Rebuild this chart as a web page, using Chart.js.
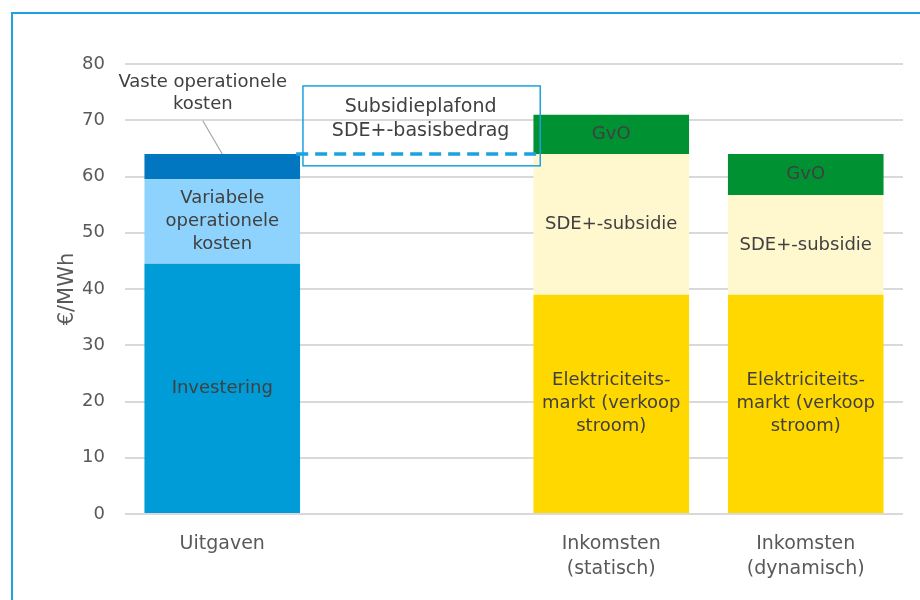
<!DOCTYPE html>
<html>
<head>
<meta charset="utf-8">
<script src="https://cdn.jsdelivr.net/npm/chart.js@4/dist/chart.umd.min.js"></script>
<style>
  html, body { margin: 0; padding: 0; background: #fff; }
  #wrap { position: relative; width: 920px; height: 600px; overflow: hidden; }
  #frame { position: absolute; left: 11px; top: 12px; width: 1000px; height: 700px;
           border-left: 2px solid #1AA3DE; border-top: 2px solid #1AA3DE; }
  canvas { position: absolute; left: 0; top: 0; }
</style>
</head>
<body>
<div id="wrap">
  <div id="frame"></div>
  <canvas id="c" width="920" height="600"></canvas>
</div>
<script>
const FONT = '"DejaVu Sans", Verdana, sans-serif';

const categories = ['Uitgaven', '', ['Inkomsten', '(statisch)'], ['Inkomsten', '(dynamisch)']];
const yTicks = [0, 10, 20, 30, 40, 50, 60, 70, 80];

const investering = [44.5, null, null, null];
const variabeleOp = [15, null, null, null];
const vasteOp = [4.5, null, null, null];
const elektriciteit = [null, null, 39, 39];
const sdeSubsidie = [null, null, 25, 17.7];
const gvo = [null, null, 7, 7.3];

const plafond = 64; // SDE+-basisbedrag

const segLabels = {
  investering: ['Investering'],
  variabele: ['Variabele', 'operationele', 'kosten'],
  elek: ['Elektriciteits-', 'markt (verkoop', 'stroom)'],
  sde: ['SDE+-subsidie'],
  gvo: ['GvO'],
};

const inBarLabels = {
  id: 'inBarLabels',
  afterDatasetsDraw(chart) {
    const ctx = chart.ctx;
    ctx.save();
    ctx.font = '18px ' + FONT;
    ctx.fillStyle = '#404040';
    ctx.textAlign = 'center';
    ctx.textBaseline = 'middle';
    chart.data.datasets.forEach((ds, i) => {
      const lines = ds.segLabel;
      if (!lines) return;
      chart.getDatasetMeta(i).data.forEach((bar, j) => {
        if (ds.data[j] == null) return;
        const cy = (bar.y + bar.base) / 2;
        const lh = 23;
        lines.forEach((t, k) => {
          ctx.fillText(t, bar.x, cy + (k - (lines.length - 1) / 2) * lh);
        });
      });
    });
    ctx.restore();
  }
};

const annotations = {
  id: 'annotations',
  afterDatasetsDraw(chart) {
    const ctx = chart.ctx;
    const x = chart.scales.x, y = chart.scales.y;
    const cw = x.getPixelForValue(1) - x.getPixelForValue(0);
    ctx.save();

    // subsidieplafond box + dashed line
    const cx = x.getPixelForValue(1);
    const yp = y.getPixelForValue(plafond);
    ctx.strokeStyle = '#1AA3DE';
    ctx.lineWidth = 1.5;
    ctx.strokeRect(cx - 0.585 * cw, y.getPixelForValue(76.1), 1.22 * cw, y.getPixelForValue(61.9) - y.getPixelForValue(76.1));
    ctx.lineWidth = 3.5;
    ctx.setLineDash([12, 7]);
    ctx.beginPath();
    ctx.moveTo(cx - 0.62 * cw, yp);
    ctx.lineTo(cx + 0.63 * cw, yp);
    ctx.stroke();
    ctx.setLineDash([]);
    ctx.font = '19px ' + FONT;
    ctx.fillStyle = '#404040';
    ctx.textAlign = 'center';
    ctx.textBaseline = 'middle';
    ctx.fillText('Subsidieplafond', cx + 0.02 * cw, y.getPixelForValue(72.4));
    ctx.fillText('SDE+-basisbedrag', cx + 0.02 * cw, y.getPixelForValue(68));

    // vaste operationele kosten callout
    const bar = chart.getDatasetMeta(2).data[0];
    ctx.font = '18px ' + FONT;
    ctx.fillText('Vaste operationele', bar.x - 0.1 * cw, y.getPixelForValue(76.8));
    ctx.fillText('kosten', bar.x - 0.1 * cw, y.getPixelForValue(72.9));
    ctx.strokeStyle = '#A6A6A6';
    ctx.lineWidth = 1.2;
    ctx.beginPath();
    ctx.moveTo(bar.x - 0.1 * cw, y.getPixelForValue(69.9));
    ctx.lineTo(bar.x, bar.y);
    ctx.stroke();
    ctx.restore();
  }
};

function ds(label, data, color, lines) {
  return { label, data, backgroundColor: color, segLabel: lines, borderWidth: 0 };
}

new Chart(document.getElementById('c'), {
  type: 'bar',
  data: {
    labels: categories,
    datasets: [
      ds('Investering', investering, '#009CD8', segLabels.investering),
      ds('Variabele operationele kosten', variabeleOp, '#8ED3FD', segLabels.variabele),
      ds('Vaste operationele kosten', vasteOp, '#0077C0', null),
      ds('Elektriciteitsmarkt', elektriciteit, '#FFD800', segLabels.elek),
      ds('SDE+-subsidie', sdeSubsidie, '#FFF7CE', segLabels.sde),
      ds('GvO', gvo, '#009133', segLabels.gvo),
    ]
  },
  options: {
    responsive: false,
    animation: false,
    layout: { padding: { left: 55, right: 17, top: 64, bottom: 0 } },
    plugins: { legend: { display: false }, tooltip: { enabled: false } },
    datasets: { bar: { categoryPercentage: 1, barPercentage: 0.8 } },
    scales: {
      x: {
        stacked: true,
        grid: { display: false },
        border: { display: false },
        ticks: { color: '#595959', font: { family: FONT, size: 19, lineHeight: 1.3 }, padding: 10, maxRotation: 0, autoSkip: false },
        afterFit: (s) => { s.height = 86; }
      },
      y: {
        stacked: true,
        min: 0, max: 80,
        afterBuildTicks: (s) => { s.ticks = yTicks.map(v => ({ value: v })); },
        grid: { color: '#D9D9D9', lineWidth: 2, drawTicks: false },
        border: { display: false },
        ticks: { color: '#595959', font: { family: FONT, size: 18 }, padding: 20 },
        title: { display: true, text: '€/MWh', color: '#595959', font: { family: FONT, size: 21 }, padding: 0 },
        afterFit: (s) => { s.width = 70; }
      }
    }
  },
  plugins: [inBarLabels, annotations]
});
</script>
</body>
</html>
